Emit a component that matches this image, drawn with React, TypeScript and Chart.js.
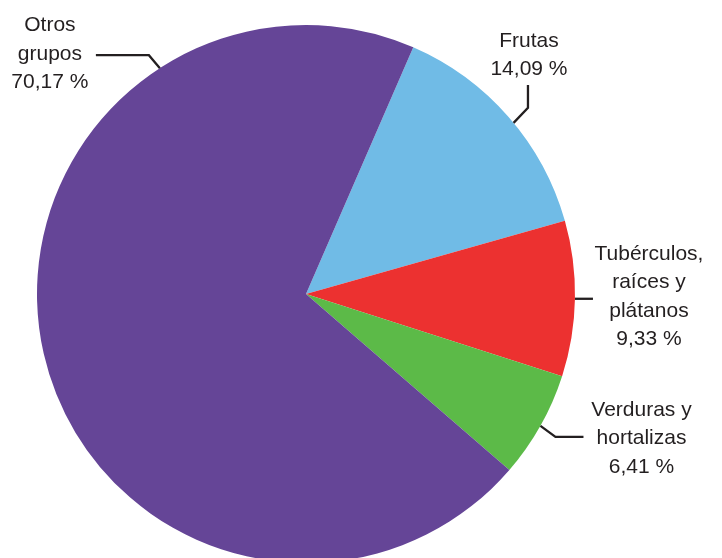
import React, { useEffect, useRef } from "react";
import { Chart, registerables } from "chart.js";

Chart.register(...registerables);

const categories = ["Frutas", "Tubérculos, raíces y plátanos", "Verduras y hortalizas", "Otros grupos"];
const values = [14.09, 9.33, 6.41, 70.17];
const valueLabels = ["14,09 %", "9,33 %", "6,41 %", "70,17 %"];
const labelLines = [["Frutas"], ["Tubérculos,", "raíces y", "plátanos"], ["Verduras y", "hortalizas"], ["Otros", "grupos"]];
const colors = ["#70bbe6", "#ec3130", "#5cba48", "#654597"];

const FONT = '21px "Liberation Sans", Arial, sans-serif';
const TEXT_COLOR = "#231f20";

// per-label annotation layout: anchor angle override (deg, clockwise from top) or null for mid-angle,
// leader path offsets relative to the anchor, text center x and first baseline y relative to the leader end
const leaderLayout = [
  { angle: 50.5 as number | null, path: [[14.4, -15], [14.4, -38]], textDx: 1, firstBase: -38 },
  { angle: null as number | null, path: [[18, 0]], textDx: 56, firstBase: -39 },
  { angle: null as number | null, path: [[15, 11], [43, 11]], textDx: 58, firstBase: -21 },
  { angle: -32.9 as number | null, path: [[-11, -13], [-64, -13]], textDx: -46, firstBase: -24 },
];

const labelPlugin = {
  id: "leaderLabels",
  afterDraw(chart: any) {
    const ctx = chart.ctx;
    const meta = chart.getDatasetMeta(0);
    ctx.save();
    ctx.font = FONT;
    ctx.fillStyle = TEXT_COLOR;
    ctx.strokeStyle = "#231f20";
    ctx.lineWidth = 2.3;
    ctx.lineJoin = "miter";
    ctx.textAlign = "center";
    ctx.textBaseline = "alphabetic";
    meta.data.forEach((arc: any, i: number) => {
      const p = arc.getProps(["x", "y", "startAngle", "endAngle", "outerRadius"], true);
      const L = leaderLayout[i];
      let a: number;
      if (L.angle === null) a = (p.startAngle + p.endAngle) / 2;
      else a = (L.angle * Math.PI) / 180 - Math.PI / 2;
      const ax = p.x + Math.cos(a) * p.outerRadius;
      const ay = p.y + Math.sin(a) * p.outerRadius;
      ctx.beginPath();
      ctx.moveTo(ax, ay);
      let ex = ax, ey = ay;
      L.path.forEach(([dx, dy]) => {
        ex = ax + dx;
        ey = ay + dy;
        ctx.lineTo(ex, ey);
      });
      ctx.stroke();
      const lines = [...labelLines[i], valueLabels[i]];
      const tx = ex + L.textDx;
      const by = ey + L.firstBase;
      lines.forEach((ln, k) => {
        ctx.fillText(ln, tx, by + k * 28.5);
      });
    });
    ctx.restore();
  },
};

export default function App() {
  const ref = useRef<HTMLCanvasElement>(null);
  useEffect(() => {
    if (!ref.current) return;
    const chart = new Chart(ref.current, {
      type: "pie",
      data: {
        labels: categories,
        datasets: [
          {
            data: values,
            backgroundColor: colors,
            borderWidth: 0,
          },
        ],
      },
      options: {
        responsive: false,
        animation: false,
        devicePixelRatio: 1,
        rotation: 23.5,
        layout: { padding: { left: 37, right: 147, top: 25, bottom: 37 } },
        plugins: { legend: { display: false }, tooltip: { enabled: false } },
      },
      plugins: [labelPlugin],
    });
    return () => chart.destroy();
  }, []);
  return (
    <div style={{ position: "absolute", left: 0, top: 0, width: 722, height: 558, overflow: "hidden", background: "#fff" }}>
      <canvas ref={ref} width={722} height={600} style={{ display: "block" }} />
    </div>
  );
}
